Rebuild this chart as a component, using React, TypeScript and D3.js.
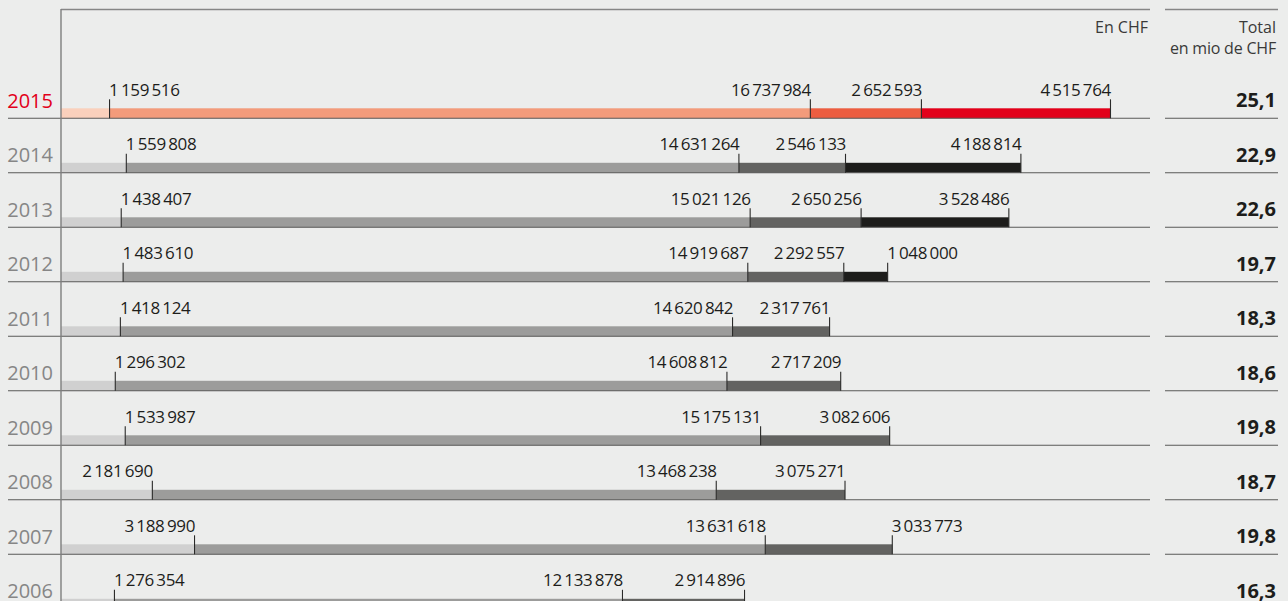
import React from 'react';
import * as d3 from 'd3';

const years = ['2015', '2014', '2013', '2012', '2011', '2010', '2009', '2008', '2007', '2006'];
const baseValues = [1159516, 1559808, 1438407, 1483610, 1418124, 1296302, 1533987, 2181690, 3188990, 1276354];
const mainValues = [16737984, 14631264, 15021126, 14919687, 14620842, 14608812, 15175131, 13468238, 13631618, 12133878];
const thirdValues = [2652593, 2546133, 2650256, 2292557, 2317761, 2717209, 3082606, 3075271, 3033773, 2914896];
const fourthValues: (number | null)[] = [4515764, 4188814, 3528486, 1048000, null, null, null, null, null, null];
const totals = ['25,1', '22,9', '22,6', '19,7', '18,3', '18,6', '19,8', '18,7', '19,8', '16,3'];
// label anchor per segment: s = start (left-aligned at tick), e = end (right-aligned at tick)
const labelAnchors = ['seee', 'seee', 'seee', 'sees', 'see', 'see', 'see', 'eee', 'ees', 'see'];

const highlightColors = ['#fad0bc', '#f39b7b', '#ec5d40', '#e2001a'];
const greyColors = ['#d0d0d0', '#9c9c9b', '#636361', '#1d1d1b'];

const W = 1288;
const H = 601;
const FONT = "'Open Sans', 'Noto Sans', sans-serif";

const locale = d3.formatLocale({ decimal: ',', thousands: '\u2009', grouping: [3], currency: ['', ''] });
const fmt = locale.format(',d');

export default function App() {
  const x = d3.scaleLinear().domain([0, 26e6]).range([61, 1149.6]);
  const y = d3.scalePoint<string>().domain(years).range([118.3, 118.3 + 9 * 54.5]);
  const barH = 10;

  const rows = years.map((yr, i) => {
    const vals = [baseValues[i], mainValues[i], thirdValues[i], fourthValues[i]].filter(
      (v): v is number => v !== null && v !== undefined
    );
    let acc = 0;
    const segs = vals.map((v, j) => {
      const s = { x0: acc, x1: acc + v, v, j };
      acc += v;
      return s;
    });
    return { yr, i, segs };
  });

  return (
    <svg
      width={W}
      height={H}
      viewBox={`0 0 ${W} ${H}`}
      style={{ position: 'absolute', left: 0, top: 0, display: 'block', background: '#ecedec' }}
    >
      <rect x={0} y={0} width={W} height={H} fill="#ecedec" />
      {/* top lines */}
      <line x1={61} x2={1150} y1={9.5} y2={9.5} stroke="#868686" strokeWidth={1.4} />
      <line x1={1165} x2={1278} y1={9.5} y2={9.5} stroke="#868686" strokeWidth={1.4} />
      {/* headers */}
      <text x={1148} y={33} textAnchor="end" fontFamily={FONT} fontSize={16} fill="#3a3a39">
        En CHF
      </text>
      <text x={1276} y={33} textAnchor="end" fontFamily={FONT} fontSize={16} fill="#3a3a39">
        Total
      </text>
      <text x={1276} y={54} textAnchor="end" fontFamily={FONT} fontSize={16} fill="#3a3a39" letterSpacing={-0.2}>
        en mio de CHF
      </text>

      {rows.map(({ yr, i, segs }) => {
        const base = y(yr) as number;
        const colors = i === 0 ? highlightColors : greyColors;
        return (
          <g key={yr}>
            {segs.map((s) => (
              <rect
                key={'b' + s.j}
                x={x(s.x0)}
                y={base - barH}
                width={x(s.x1) - x(s.x0)}
                height={barH}
                fill={colors[s.j]}
              />
            ))}
            <line x1={8} x2={1150} y1={base} y2={base} stroke="#5a5a59" strokeWidth={1.1} />
            <line x1={1165} x2={1278} y1={base} y2={base} stroke="#5a5a59" strokeWidth={1.1} />
            {segs.map((s) => (
              <line
                key={'t' + s.j}
                x1={x(s.x1)}
                x2={x(s.x1)}
                y1={base - 19}
                y2={base}
                stroke="#2a2a29"
                strokeWidth={1.1}
              />
            ))}
            {segs.map((s) => {
              const anchor = labelAnchors[i][s.j] === 's' ? 'start' : 'end';
              return (
                <text
                  key={'l' + s.j}
                  x={x(s.x1) + (anchor === 'start' ? -0.5 : 0.5)}
                  y={base - 22.5}
                  textAnchor={anchor}
                  fontFamily={FONT}
                  fontSize={17}
                  letterSpacing={-0.35}
                  fill="#1d1d1b"
                >
                  {fmt(s.v)}
                </text>
              );
            })}
            <text
              x={53}
              y={base - 10.5}
              textAnchor="end"
              fontFamily={FONT}
              fontSize={20}
              fontWeight={400}
              fill={i === 0 ? '#e2001a' : '#868686'}
            >
              {yr}
            </text>
            <text
              x={1276}
              y={base - 11}
              textAnchor="end"
              fontFamily={FONT}
              fontSize={20}
              fontWeight={700}
              fill="#1d1d1b"
            >
              {totals[i]}
            </text>
          </g>
        );
      })}
      {/* left axis */}
      <line x1={61} x2={61} y1={9} y2={H} stroke="#7e7e7e" strokeWidth={1.4} />
    </svg>
  );
}
